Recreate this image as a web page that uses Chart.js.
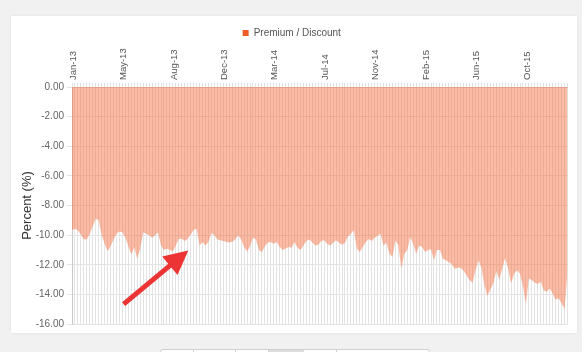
<!DOCTYPE html>
<html>
<head>
<meta charset="utf-8">
<script src="https://cdn.jsdelivr.net/npm/chart.js@4/dist/chart.umd.min.js"></script>
<style>
  html, body { margin: 0; padding: 0; }
  body { width: 582px; height: 352px; overflow: hidden; background: #f1f1f1; position: relative; font-family: "Liberation Sans", Arial, sans-serif; }
  #card { position: absolute; left: 11px; top: 16px; width: 566px; height: 317px; background: #fff; box-shadow: 0 0 3px rgba(0,0,0,0.08); }
  #btns { position: absolute; left: 160px; top: 349px; width: 268px; height: 12px; border: 1px solid #d0d0d0; border-radius: 3px; background: #fff; overflow: hidden; }
  #btns span { position: absolute; top: 0; height: 12px; border-left: 1px solid #d0d0d0; }
  #wrap { position: absolute; left: 0; top: 0; width: 582px; height: 352px; }
</style>
</head>
<body>
<div id="card"></div>
<div id="btns">
  <span style="left:32px;width:0"></span>
  <span style="left:74px;width:0"></span>
  <span style="left:107px;width:35px;background:#ddd"></span>
  <span style="left:175px;width:0"></span>
</div>
<div id="wrap"><canvas id="c" width="582" height="352"></canvas></div>
<script>
// Weekly premium / discount (%) from Jan-13 to Dec-15
const premiumDiscount = [
  -9.65, -9.57, -9.68, -9.97, -10.30, -10.28, -9.90, -9.40, -8.90, -9.00,
  -10.00, -10.58, -11.07, -10.75, -10.30, -9.90, -9.75, -9.80, -10.17, -10.75,
  -11.30, -10.80, -11.60, -10.91, -9.80, -9.90, -10.00, -10.17, -10.00, -9.83,
  -10.70, -11.00, -10.90, -11.00, -11.10, -10.70, -10.24, -10.24, -10.40, -10.24,
  -9.95, -9.65, -9.57, -10.70, -10.47, -10.70, -10.47, -9.85, -10.00, -10.30,
  -10.35, -10.40, -10.45, -10.50, -10.45, -10.30, -10.00, -10.30, -10.80, -11.10,
  -10.75, -10.17, -10.30, -11.00, -11.14, -10.75, -10.50, -10.47, -10.58, -10.47,
  -10.80, -11.00, -10.90, -10.80, -10.85, -10.47, -10.85, -11.00, -10.70, -10.40,
  -10.30, -10.50, -10.70, -10.65, -10.40, -10.35, -10.58, -10.70, -10.52, -10.35,
  -10.52, -10.65, -10.52, -10.10, -9.90, -9.65, -10.90, -11.14, -10.80, -10.47,
  -10.27, -10.40, -10.17, -10.05, -9.90, -10.70, -10.52, -11.25, -11.48, -10.35,
  -10.70, -12.27, -11.25, -11.00, -10.13, -10.60, -11.25, -10.70, -10.80, -11.14,
  -11.00, -10.95, -11.70, -11.00, -11.00, -11.59, -11.70, -11.81, -11.97, -12.27,
  -12.20, -12.20, -12.43, -12.71, -13.04, -13.22, -12.37, -11.70, -12.20, -13.38,
  -14.10, -13.67, -13.27, -12.43, -13.00, -12.27, -11.52, -12.27, -13.27, -12.60,
  -12.37, -12.60, -13.49, -14.61, -12.93, -13.04, -13.22, -13.30, -13.15, -13.72,
  -13.83, -13.61, -13.94, -14.34, -14.27, -14.60, -15.00, -12.50
];
// Labels shown every 17 weeks along the top axis
const tickLabels = ['Jan-13', 'May-13', 'Aug-13', 'Dec-13', 'Mar-14', 'Jul-14', 'Nov-14', 'Feb-15', 'Jun-15', 'Oct-15'];
const labelStep = 17;
const yMin = -16, yMax = 0, yStep = 2;
// Arrow annotation in data coordinates (week index, percent)
const arrowFrom = { x: 17.4, y: -14.66 };
const arrowTo = { x: 39.2, y: -11.03 };

const categories = premiumDiscount.map((_, i) => i);

const arrowPlugin = {
  id: 'arrow',
  afterDatasetsDraw(chart) {
    const { ctx, scales: { x, y } } = chart;
    const x1 = x.getPixelForValue(arrowFrom.x), y1 = y.getPixelForValue(arrowFrom.y);
    const x2 = x.getPixelForValue(arrowTo.x), y2 = y.getPixelForValue(arrowTo.y);
    const ang = Math.atan2(y2 - y1, x2 - x1);
    const headLen = 24, headHalf = 12;
    const bx = x2 - headLen * Math.cos(ang), by = y2 - headLen * Math.sin(ang);
    ctx.save();
    ctx.strokeStyle = '#ec3434';
    ctx.fillStyle = '#ec3434';
    ctx.lineWidth = 5;
    ctx.lineCap = 'butt';
    ctx.beginPath();
    ctx.moveTo(x1, y1);
    ctx.lineTo(bx + 2 * Math.cos(ang), by + 2 * Math.sin(ang));
    ctx.stroke();
    ctx.beginPath();
    ctx.moveTo(x2, y2);
    ctx.lineTo(bx + headHalf * Math.sin(ang), by - headHalf * Math.cos(ang));
    ctx.lineTo(bx - headHalf * Math.sin(ang), by + headHalf * Math.cos(ang));
    ctx.closePath();
    ctx.fill();
    ctx.restore();
  }
};

new Chart(document.getElementById('c'), {
  type: 'line',
  data: {
    labels: categories,
    datasets: [{
      label: 'Premium / Discount',
      data: premiumDiscount,
      fill: 'origin',
      backgroundColor: 'rgba(247,100,50,0.44)',
      borderColor: 'rgba(0,0,0,0)',
      borderWidth: 0,
      pointRadius: 0,
      pointHoverRadius: 0,
      tension: 0
    }]
  },
  options: {
    responsive: false,
    animation: false,
    events: [],
    layout: { padding: { left: 16, right: 14.5, top: 22, bottom: 28 } },
    plugins: {
      tooltip: { enabled: false },
      legend: {
        position: 'top',
        labels: {
          boxWidth: 6,
          boxHeight: 6,
          padding: 6,
          color: '#555',
          font: { family: '"Liberation Sans", Arial, sans-serif', size: 10 },
          generateLabels(chart) {
            const items = Chart.defaults.plugins.legend.labels.generateLabels(chart);
            items.forEach(it => { it.fillStyle = '#ef5a2a'; it.strokeStyle = '#ef5a2a'; it.lineWidth = 0; });
            return items;
          }
        }
      }
    },
    scales: {
      x: {
        type: 'category',
        position: 'top',
        offset: false,
        afterFit(s) { s.height = 39; },
        grid: { color: '#e3e3e3', lineWidth: 1, tickLength: 4, drawTicks: true },
        border: { color: '#d0d0d0' },
        ticks: {
          autoSkip: false,
          maxRotation: 90,
          minRotation: 90,
          padding: 3,
          labelOffset: 12.5,
          color: '#555',
          font: { family: '"Liberation Sans", Arial, sans-serif', size: 9.5 },
          callback(v, i) { return i % labelStep === 0 ? (tickLabels[i / labelStep] || '') : ''; }
        }
      },
      y: {
        min: yMin,
        max: yMax,
        afterFit(s) { s.width = 56; },
        grid: { color: '#e3e3e3', tickLength: 5 },
        border: { color: '#c8c8c8' },
        ticks: {
          stepSize: yStep,
          padding: 3,
          color: '#666',
          font: { family: '"Liberation Sans", Arial, sans-serif', size: 10 },
          callback(v) { return Number(v).toFixed(2); }
        },
        title: {
          display: true,
          text: 'Percent (%)',
          color: '#333',
          font: { family: '"Liberation Sans", Arial, sans-serif', size: 13 },
          padding: { top: 4, bottom: 4 }
        }
      }
    }
  },
  plugins: [arrowPlugin]
});
</script>
</body>
</html>
